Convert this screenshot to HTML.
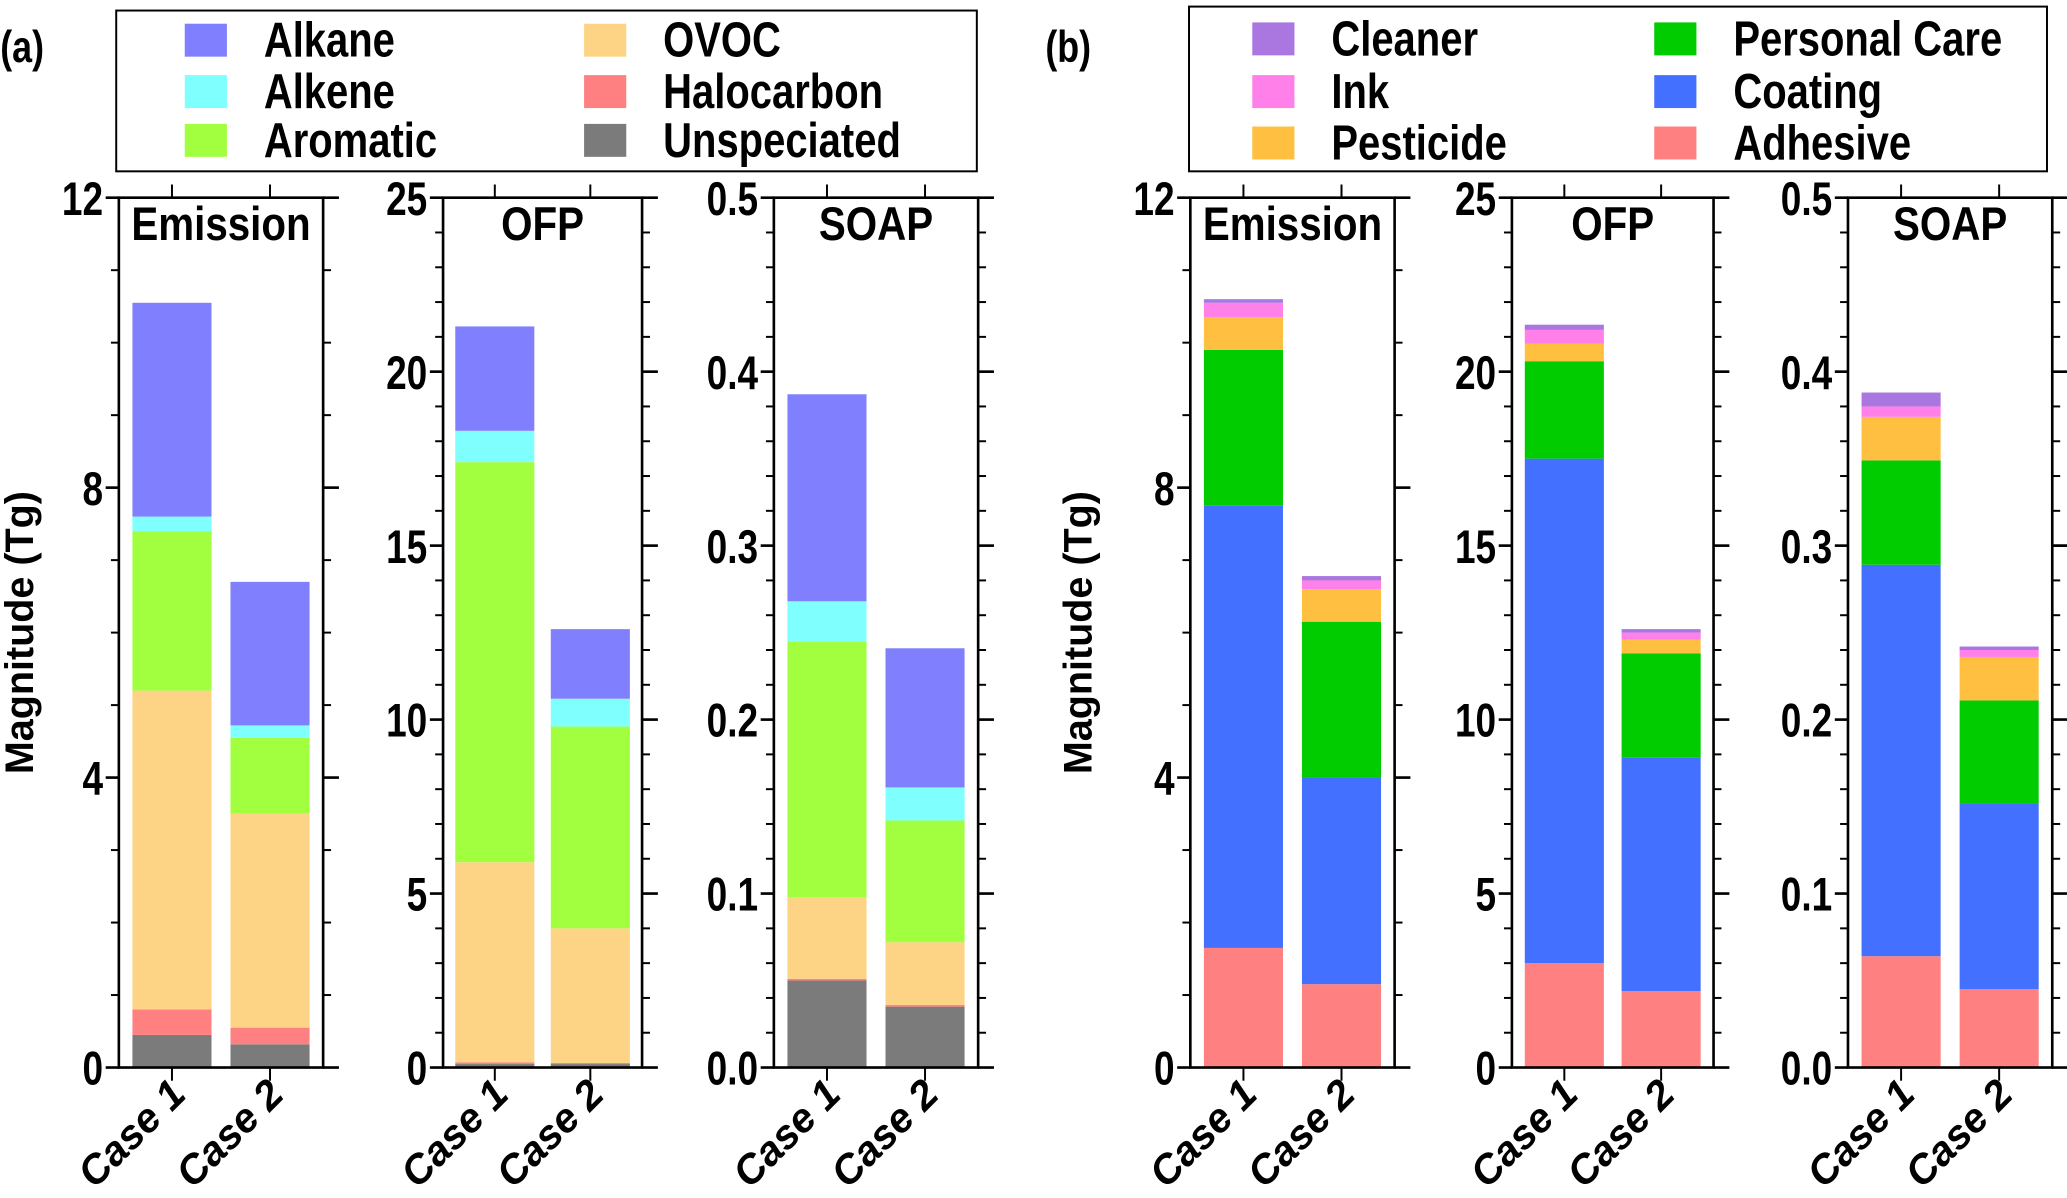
<!DOCTYPE html>
<html><head><meta charset="utf-8"><style>
html,body{margin:0;padding:0;background:#fff;}
svg{display:block;}
text{font-family:"Liberation Sans",sans-serif;font-weight:bold;fill:#000;}
</style></head><body>
<svg id="chart" width="2067" height="1198" viewBox="0 0 1568 909" xmlns="http://www.w3.org/2000/svg"></svg>
<script>
// ---- data ----
const cases = ["Case 1", "Case 2"];
const speciesNames = ["Unspeciated", "Halocarbon", "OVOC", "Aromatic", "Alkene", "Alkane"];
const speciesColors = ["#7b7b7b", "#ff8080", "#fdd485", "#a2ff40", "#80ffff", "#8080ff"];
const sourceNames = ["Adhesive", "Coating", "Personal Care", "Pesticide", "Ink", "Cleaner"];
const sourceColors = ["#ff8080", "#4370ff", "#00cc00", "#ffbf40", "#ff80e8", "#aa77e0"];
// segment values (bottom to top), per case
const specEmission1 = [0.45, 0.35, 4.4, 2.2, 0.2, 2.95];
const specEmission2 = [0.32, 0.23, 2.95, 1.05, 0.17, 1.98];
const specOFP1 = [0.1, 0.05, 5.75, 11.5, 0.9, 3.0];
const specOFP2 = [0.1, 0.03, 3.87, 5.8, 0.8, 2.0];
const specSOAP1 = [0.05, 0.001, 0.047, 0.147, 0.023, 0.119];
const specSOAP2 = [0.035, 0.001, 0.036, 0.07, 0.019, 0.08];
const srcEmission1 = [1.65, 6.1, 2.15, 0.45, 0.2, 0.05];
const srcEmission2 = [1.15, 2.85, 2.15, 0.45, 0.12, 0.06];
const srcOFP1 = [3.0, 14.5, 2.8, 0.5, 0.4, 0.15];
const srcOFP2 = [2.2, 6.7, 3.0, 0.4, 0.2, 0.1];
const srcSOAP1 = [0.064, 0.225, 0.06, 0.025, 0.006, 0.008];
const srcSOAP2 = [0.045, 0.107, 0.059, 0.025, 0.004, 0.002];
const emissionTicks = ["0", "4", "8", "12"];
const ofpTicks = ["0", "5", "10", "15", "20", "25"];
const soapTicks = ["0.0", "0.1", "0.2", "0.3", "0.4", "0.5"];

const svg = document.getElementById('chart');
const NS = "http://www.w3.org/2000/svg";
function mk(tag, attrs, parent, txt) {
  const e = document.createElementNS(NS, tag);
  for (const k in attrs) e.setAttribute(k, attrs[k]);
  if (txt !== undefined) e.textContent = txt;
  (parent || svg).appendChild(e);
  return e;
}
function ctext(x, y, size, anchor, sx, parent, txt, extra) {
  const attrs = {x: 0, y: 0, 'text-anchor': anchor, 'font-size': size, transform: `translate(${x} ${y}) scale(${sx} 1)`};
  if (extra) for (const k in extra) attrs[k] = extra[k];
  return mk('text', attrs, parent, txt);
}
const TOP = 150, BOT = 810;

function panel(x0, x1, title, ticks, maxV, minorStep, data1, data2, colors, names, key) {
  const g = mk('g', {});
  
  
  const y = v => BOT - (v / maxV) * (BOT - TOP);
  const w = x1 - x0;
  const cx = [x0 + w * 0.26, x0 + w * 0.74];
  const bw = 60;
  [data1, data2].forEach((d, ci) => {
    let cum = 0;
    d.forEach((v, si) => {
      const r = mk('rect', {x: cx[ci] - bw / 2, y: y(cum + v), width: bw, height: y(cum) - y(cum + v), fill: colors[si]}, g);
      
      
      cum += v;
    });
  });
  const f = mk('rect', {x: x0, y: TOP, width: w, height: BOT - TOP, fill: 'none', stroke: '#000', 'stroke-width': 2}, g);
  
  
  const nMinor = Math.round(maxV / minorStep);
  for (let i = 0; i <= nMinor; i++) {
    const yy = y(i * minorStep);
    mk('line', {x1: x0 - 6, x2: x0, y1: yy, y2: yy, stroke: '#000', 'stroke-width': 1.5}, g);
    mk('line', {x1: x1, x2: x1 + 6, y1: yy, y2: yy, stroke: '#000', 'stroke-width': 1.5}, g);
  }
  ticks.forEach((t, i) => {
    const v = maxV * i / (ticks.length - 1);
    const yy = y(v);
    mk('line', {x1: x0 - 10, x2: x0, y1: yy, y2: yy, stroke: '#000', 'stroke-width': 2}, g);
    mk('line', {x1: x1, x2: x1 + 12, y1: yy, y2: yy, stroke: '#000', 'stroke-width': 2}, g);
    const tl = ctext(x0 - 12, yy + 13, 36, 'end', 0.78, g, t);
    
    
  });
  cx.forEach((c, ci) => {
    mk('line', {x1: c, x2: c, y1: TOP - 10, y2: TOP, stroke: '#000', 'stroke-width': 1.5}, g);
    mk('line', {x1: c, x2: c, y1: BOT, y2: BOT + 10, stroke: '#000', 'stroke-width': 1.5}, g);
    const ax = c + 12, ay = BOT + 22;
    const cl = mk('text', {x: ax, y: ay, 'text-anchor': 'end', 'font-size': 31, 'font-style': 'italic', transform: `rotate(-45 ${ax} ${ay})`}, g, cases[ci]);
    
    
  });
  const tt = ctext(x0 + w / 2, TOP + 32, 36, 'middle', 0.85, g, title);
  
  
}

panel(90, 245, 'Emission', emissionTicks, 12, 1, specEmission1, specEmission2, speciesColors, speciesNames, 'a-emission');
panel(336, 487, 'OFP', ofpTicks, 25, 1, specOFP1, specOFP2, speciesColors, speciesNames, 'a-ofp');
panel(587, 742, 'SOAP', soapTicks, 0.5, 0.02, specSOAP1, specSOAP2, speciesColors, speciesNames, 'a-soap');
panel(903, 1058, 'Emission', emissionTicks, 12, 1, srcEmission1, srcEmission2, sourceColors, sourceNames, 'b-emission');
panel(1147, 1300, 'OFP', ofpTicks, 25, 1, srcOFP1, srcOFP2, sourceColors, sourceNames, 'b-ofp');
panel(1402, 1557, 'SOAP', soapTicks, 0.5, 0.02, srcSOAP1, srcSOAP2, sourceColors, sourceNames, 'b-soap');

[[25, 'a'], [828, 'b']].forEach(([x, k]) => {
  const t = mk('text', {x: x, y: 480, 'text-anchor': 'middle', 'font-size': 30, transform: `rotate(-90 ${x} 480)`}, svg, 'Magnitude (Tg)');
  
  
});
const la = ctext(0, 47, 34, 'start', 0.8, svg, '(a)', {'font-weight': 'normal'});


const lb = ctext(793, 47, 34, 'start', 0.8, svg, '(b)', {'font-weight': 'normal'});



function legend(bx, by, bw, bh, order, names, colors, colX, rowsY, key) {
  const g = mk('g', {});
  
  
  mk('rect', {x: bx, y: by, width: bw, height: bh, fill: '#fff', stroke: '#000', 'stroke-width': 1.5}, g);
  order.forEach((idx, i) => {
    const col = Math.floor(i / 3), row = i % 3;
    const sx = colX[col], sy = rowsY[row];
    const e = mk('g', {}, g);
    
    
    mk('rect', {x: sx, y: sy - 12, width: 32, height: 25, fill: colors[idx]}, e);
    ctext(sx + 60, sy + 13, 37, 'start', 0.82, e, names[idx]);
  });
}
legend(88, 8, 653, 122, [5, 4, 3, 2, 1, 0], speciesNames, speciesColors, [140, 443], [30, 69, 106], 'legend-a');
legend(902, 5, 651, 125, [5, 4, 3, 2, 1, 0], sourceNames, sourceColors, [950, 1255], [29, 69, 108], 'legend-b');
</script>
</body></html>
